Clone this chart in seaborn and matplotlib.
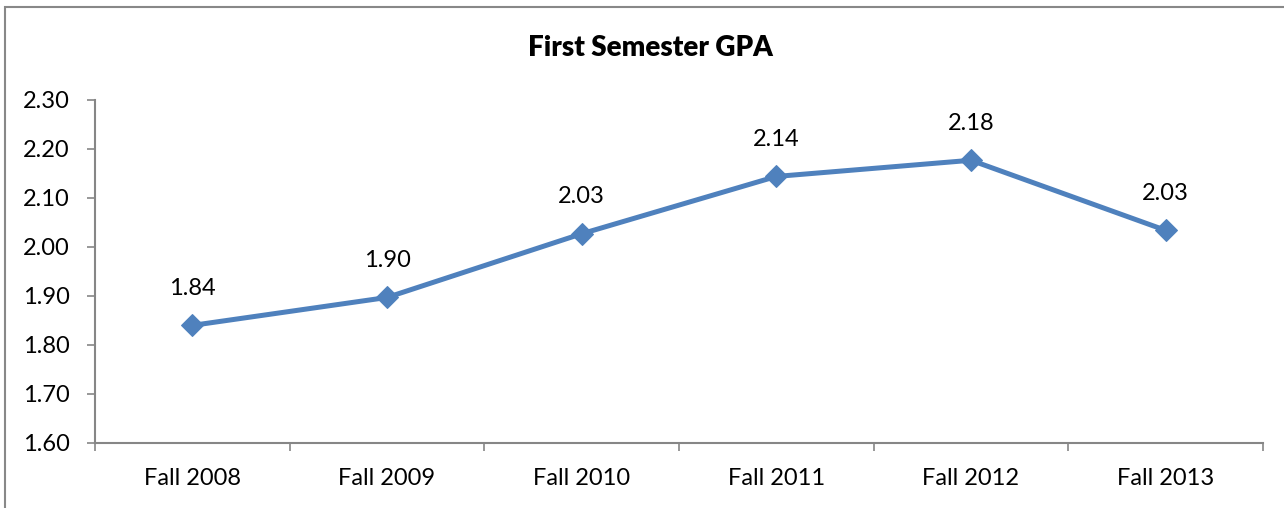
import matplotlib
matplotlib.use("Agg")
import matplotlib.pyplot as plt
import seaborn as sns
import pandas as pd
from matplotlib.patches import Rectangle

categories = ["Fall 2008", "Fall 2009", "Fall 2010", "Fall 2011", "Fall 2012", "Fall 2013"]
gpa = [1.84, 1.897, 2.027, 2.144, 2.177, 2.034]
labels = ["1.84", "1.90", "2.03", "2.14", "2.18", "2.03"]
yticks = [1.60, 1.70, 1.80, 1.90, 2.00, 2.10, 2.20, 2.30]

sns.set_style("white")
plt.rcParams["font.family"] = ["Lato", "DejaVu Sans"]

df = pd.DataFrame({"term": categories, "gpa": gpa})

fig = plt.figure(figsize=(12.84, 5.08), dpi=100)
ax = fig.add_axes([95/1284, 1 - 443/508, (1263-95)/1284, (443-100)/508])

sns.lineplot(data=df, x="term", y="gpa", ax=ax, color="#4F81BD", linewidth=3.6,
             marker="D", markersize=11, markeredgecolor="#4F81BD", sort=False)

for i, (v, t) in enumerate(zip(gpa, labels)):
    ax.annotate(t, (i, v), xytext=(0, 19), textcoords="offset points",
                ha="center", va="bottom", fontsize=17, color="black")

ax.set_xlim(-0.5, len(categories) - 0.5)
ax.set_ylim(1.60, 2.30)
ax.set_yticks(yticks)
ax.set_yticklabels([f"{v:.2f}" for v in yticks], fontsize=17, color="black")
ax.set_xticks(range(len(categories)))
ax.set_xticklabels(categories, fontsize=17, color="black")
ax.tick_params(axis="x", length=0, pad=18)
ax.tick_params(axis="y", length=6, width=1.2, color="#868686", pad=12, left=True)
# category boundary ticks on x axis
ax.set_xticks([i - 0.5 for i in range(len(categories) + 1)], minor=True)
ax.tick_params(axis="x", which="minor", length=6, width=1.2, color="#868686", bottom=True)

for s in ["top", "right"]:
    ax.spines[s].set_visible(False)
for s in ["left", "bottom"]:
    ax.spines[s].set_color("#868686")
    ax.spines[s].set_linewidth(1.5)
ax.set_xlabel("")
ax.set_ylabel("")
ax.set_title("")

fig.text(650/1284, 1 - 48/508, "First Semester GPA", ha="center", va="center",
         fontsize=20, fontweight="heavy", color="black")

fig.patches.append(Rectangle((5/1284, -0.1), 1.2, 1 - 7/508 + 0.1, transform=fig.transFigure,
                             fill=False, edgecolor="#888888", linewidth=1.5))

fig.savefig("out.png", dpi=100)
